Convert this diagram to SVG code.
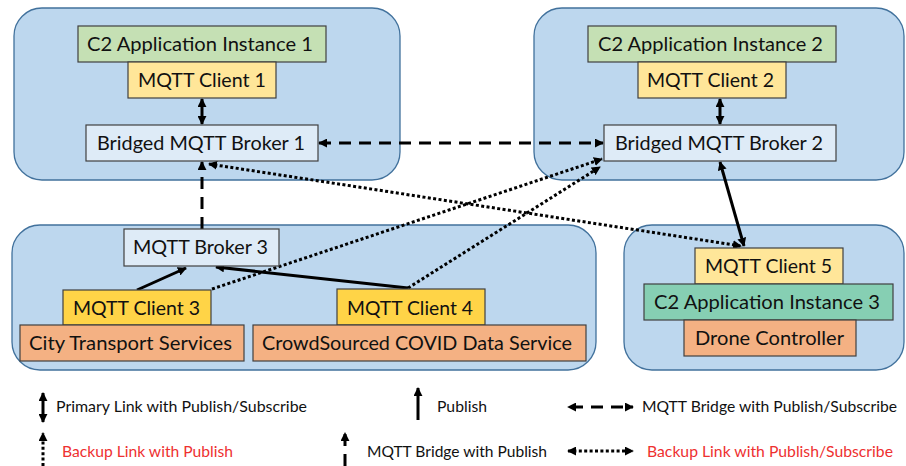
<svg xmlns="http://www.w3.org/2000/svg" width="906" height="466" viewBox="0 0 906 466">
  <style>
    .zone { fill: #bdd7ee; stroke: #41719c; stroke-width: 1.3; }
    .box { stroke: #404040; stroke-width: 1.2; }
    .app { fill: #c5e0b4; }
    .app3 { fill: #86cfb3; }
    .client { fill: #ffe699; }
    .client-gold { fill: #ffd447; }
    .broker { fill: #deebf7; }
    .service { fill: #f4b183; }
    text { font-family: Lato, "Open Sans", "Liberation Sans", sans-serif; fill: #111; }
    .lbl { font-size: 19px; text-anchor: middle; }
    .leg { font-size: 15px; }
    .red { fill: #ee3030; }
    .link { fill: none; stroke: #000; stroke-width: 3; }
    .dash { stroke-dasharray: 12 8; }
    .dot { stroke-dasharray: 3 2.4; }
  </style>
  <defs>
    <marker id="ah" viewBox="0 0 10 10" refX="9" refY="5" markerWidth="9" markerHeight="9" markerUnits="userSpaceOnUse" orient="auto-start-reverse">
      <path d="M0,0 L10,5 L0,10 z" fill="#000"/>
    </marker>
  </defs>

  <!-- site regions -->
  <g id="zones">
    <rect class="zone" x="14" y="8" width="386" height="172" rx="28"/>
    <rect class="zone" x="534" y="8" width="370" height="172" rx="28"/>
    <rect class="zone" x="12" y="225" width="584" height="145" rx="28"/>
    <rect class="zone" x="624" y="225" width="280" height="145" rx="28"/>
  </g>

  <!-- links between clients and brokers -->
  <g id="connectors">
    <line class="link" x1="202" y1="99" x2="202" y2="124" marker-start="url(#ah)" marker-end="url(#ah)"/>
    <line class="link" x1="720" y1="99" x2="720" y2="124" marker-start="url(#ah)" marker-end="url(#ah)"/>
    <line class="link dash" x1="319" y1="143" x2="603" y2="143" marker-start="url(#ah)" marker-end="url(#ah)"/>
    <line class="link dash" x1="202" y1="229" x2="202" y2="162" marker-end="url(#ah)"/>
    <line class="link dot" x1="209" y1="164" x2="741" y2="246" marker-start="url(#ah)" marker-end="url(#ah)"/>
    <line class="link" x1="720" y1="162" x2="744" y2="246" marker-start="url(#ah)" marker-end="url(#ah)"/>
    <line class="link dot" x1="212" y1="289" x2="602" y2="159" marker-end="url(#ah)"/>
    <line class="link dot" x1="408" y1="288" x2="600" y2="167" marker-end="url(#ah)"/>
    <line class="link" x1="137" y1="290" x2="186" y2="268" marker-end="url(#ah)"/>
    <line class="link" x1="408" y1="288" x2="216" y2="267" marker-end="url(#ah)"/>
  </g>

  <g id="c2-app-1">
    <rect class="box app" x="78" y="26" width="248" height="36"/>
    <text class="lbl" x="200" y="51" textLength="226" lengthAdjust="spacingAndGlyphs">C2 Application Instance 1</text>
  </g>
  <g id="mqtt-client-1">
    <rect class="box client" x="128" y="62" width="148" height="36"/>
    <text class="lbl" x="202" y="87" textLength="128" lengthAdjust="spacingAndGlyphs">MQTT Client 1</text>
  </g>
  <g id="broker-1">
    <rect class="box broker" x="86" y="125" width="232" height="36"/>
    <text class="lbl" x="201" y="150" textLength="208" lengthAdjust="spacingAndGlyphs">Bridged MQTT Broker 1</text>
  </g>

  <g id="c2-app-2">
    <rect class="box app" x="588" y="26" width="248" height="36"/>
    <text class="lbl" x="710.5" y="51" textLength="225" lengthAdjust="spacingAndGlyphs">C2 Application Instance 2</text>
  </g>
  <g id="mqtt-client-2">
    <rect class="box client" x="638" y="62" width="148" height="36"/>
    <text class="lbl" x="710.5" y="87" textLength="127" lengthAdjust="spacingAndGlyphs">MQTT Client 2</text>
  </g>
  <g id="broker-2">
    <rect class="box broker" x="604" y="125" width="232" height="36"/>
    <text class="lbl" x="719" y="150" textLength="208" lengthAdjust="spacingAndGlyphs">Bridged MQTT Broker 2</text>
  </g>

  <g id="broker-3">
    <rect class="box broker" x="124" y="229" width="155" height="37"/>
    <text class="lbl" x="200.5" y="254" textLength="135" lengthAdjust="spacingAndGlyphs">MQTT Broker 3</text>
  </g>
  <g id="mqtt-client-3">
    <rect class="box client-gold" x="63" y="290" width="148" height="35"/>
    <text class="lbl" x="136.5" y="315" textLength="127" lengthAdjust="spacingAndGlyphs">MQTT Client 3</text>
  </g>
  <g id="city-transport">
    <rect class="box service" x="20" y="325" width="224" height="36"/>
    <text class="lbl" x="130.5" y="350" textLength="203" lengthAdjust="spacingAndGlyphs">City Transport Services</text>
  </g>
  <g id="mqtt-client-4">
    <rect class="box client-gold" x="337" y="289" width="148" height="36"/>
    <text class="lbl" x="410" y="315" textLength="126" lengthAdjust="spacingAndGlyphs">MQTT Client 4</text>
  </g>
  <g id="covid-service">
    <rect class="box service" x="253" y="325" width="333" height="36"/>
    <text class="lbl" x="417" y="350" textLength="310" lengthAdjust="spacingAndGlyphs">CrowdSourced COVID Data Service</text>
  </g>

  <g id="mqtt-client-5">
    <rect class="box client" x="695" y="248" width="148" height="36"/>
    <text class="lbl" x="768.5" y="273" textLength="127" lengthAdjust="spacingAndGlyphs">MQTT Client 5</text>
  </g>
  <g id="c2-app-3">
    <rect class="box app3" x="644" y="284" width="249" height="36"/>
    <text class="lbl" x="767" y="309" textLength="226" lengthAdjust="spacingAndGlyphs">C2 Application Instance 3</text>
  </g>
  <g id="drone-controller">
    <rect class="box service" x="684" y="320" width="172" height="36"/>
    <text class="lbl" x="769.5" y="345" textLength="149" lengthAdjust="spacingAndGlyphs">Drone Controller</text>
  </g>

  <!-- legend -->
  <g id="legend">
    <line class="link" x1="43" y1="393" x2="43" y2="422" marker-start="url(#ah)" marker-end="url(#ah)"/>
    <text class="leg" x="56" y="412" textLength="251" lengthAdjust="spacingAndGlyphs">Primary Link with Publish/Subscribe</text>

    <line class="link dot" x1="43" y1="466" x2="43" y2="433" marker-end="url(#ah)"/>
    <text class="leg red" x="62" y="457" textLength="171" lengthAdjust="spacingAndGlyphs">Backup Link with Publish</text>

    <line class="link" x1="418" y1="420" x2="418" y2="388" marker-end="url(#ah)"/>
    <text class="leg" x="437" y="412" textLength="50" lengthAdjust="spacingAndGlyphs">Publish</text>

    <line class="link dash" x1="345" y1="466" x2="345" y2="433" marker-end="url(#ah)"/>
    <text class="leg" x="367" y="457" textLength="180" lengthAdjust="spacingAndGlyphs">MQTT Bridge with Publish</text>

    <line class="link dash" x1="568" y1="407" x2="633" y2="407" stroke-dashoffset="-3" marker-start="url(#ah)" marker-end="url(#ah)"/>
    <text class="leg" x="642" y="412" textLength="255" lengthAdjust="spacingAndGlyphs">MQTT Bridge with Publish/Subscribe</text>

    <line class="link dot" x1="568" y1="451" x2="633" y2="451" marker-start="url(#ah)" marker-end="url(#ah)"/>
    <text class="leg red" x="647" y="457" textLength="246" lengthAdjust="spacingAndGlyphs">Backup Link with Publish/Subscribe</text>
  </g>
</svg>
